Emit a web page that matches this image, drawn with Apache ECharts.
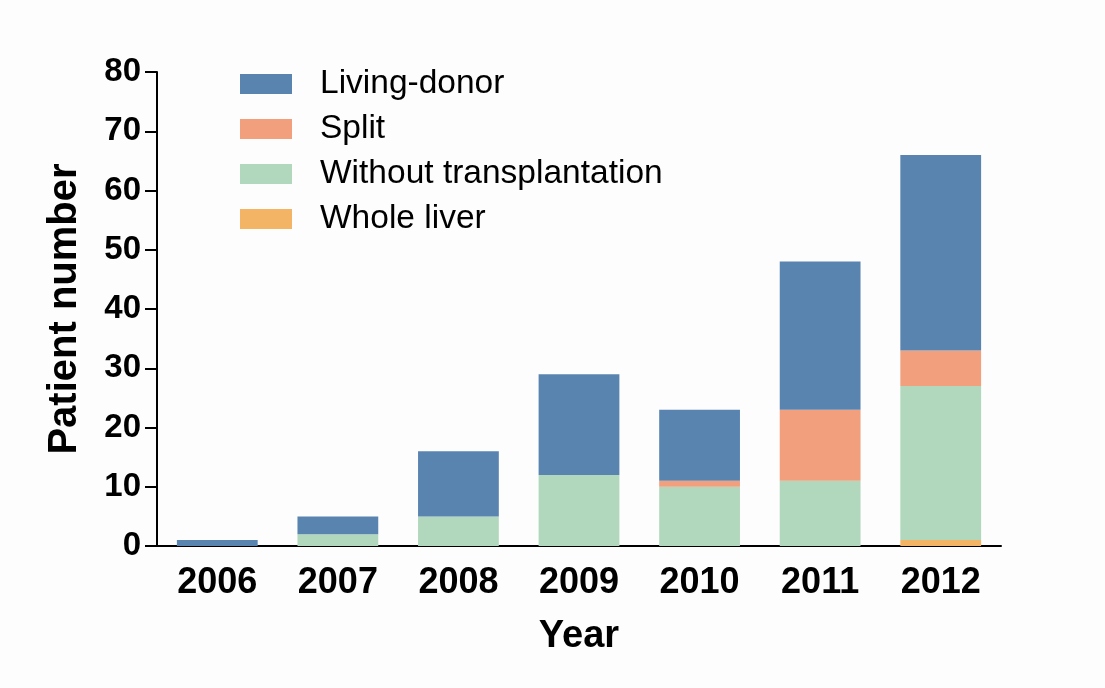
<!DOCTYPE html>
<html>
<head>
<meta charset="utf-8">
<script src="https://cdn.jsdelivr.net/npm/echarts@6/dist/echarts.min.js"></script>
<style>
  html, body { margin: 0; padding: 0; background: #fdfdfd; }
  #chart { width: 1105px; height: 688px; }
</style>
</head>
<body>
<div id="chart"></div>
<script>
// data
const years = ["2006", "2007", "2008", "2009", "2010", "2011", "2012"];
const wholeLiver = [0, 0, 0, 0, 0, 0, 1];
const withoutTx = [0, 2, 5, 12, 10, 11, 26];
const split = [0, 0, 0, 0, 1, 12, 6];
const livingDonor = [1, 3, 11, 17, 12, 25, 33];
const yTicks = { min: 0, max: 80, interval: 10 };

const chart = echarts.init(document.getElementById("chart"));

const font = "Liberation Sans, Arial, sans-serif";

function barSeries(name, data, color) {
  return {
    name: name,
    type: "bar",
    stack: "total",
    barCategoryGap: "33%",
    itemStyle: { color: color },
    data: data,
  };
}

const option = {
  backgroundColor: "#fdfdfd",
  animation: false,
  grid: { left: 157, right: 104, top: 72, bottom: 142 },
  legend: {
    left: 235,
    top: 62,
    orient: "vertical",
    itemWidth: 52,
    itemHeight: 20,
    itemGap: 11,
    icon: "rect",
    data: ["Living-donor", "Split", "Without transplantation", "Whole liver"],
    textStyle: {
      fontFamily: font,
      fontSize: 33.5,
      color: "#000",
      lineHeight: 31,
      padding: [0, 0, 0, 23],
    },
  },
  xAxis: {
    type: "category",
    data: years,
    name: "Year",
    nameLocation: "middle",
    nameGap: 72,
    nameTextStyle: { fontFamily: font, fontSize: 38, fontWeight: "bold", color: "#000" },
    axisLine: { lineStyle: { color: "#000", width: 2 } },
    axisTick: { alignWithLabel: true, length: 12, lineStyle: { color: "#000", width: 2 } },
    axisLabel: { fontFamily: font, fontSize: 36, fontWeight: "bold", color: "#000", margin: 19 },
  },
  yAxis: {
    type: "value",
    min: yTicks.min,
    max: yTicks.max,
    interval: yTicks.interval,
    name: "Patient number",
    nameLocation: "middle",
    nameRotate: 90,
    nameGap: 72,
    nameTextStyle: { fontFamily: font, fontSize: 40, fontWeight: "bold", color: "#000" },
    splitLine: { show: false },
    axisLine: { show: true, lineStyle: { color: "#000", width: 2 } },
    axisTick: { show: true, length: 12, lineStyle: { color: "#000", width: 2 } },
    axisLabel: { fontFamily: font, fontSize: 33, fontWeight: "bold", color: "#000", margin: 16 },
  },
  series: [
    barSeries("Whole liver", wholeLiver, "#f3b465"),
    barSeries("Without transplantation", withoutTx, "#b1d8bd"),
    barSeries("Split", split, "#f19f7d"),
    barSeries("Living-donor", livingDonor, "#5a84b0"),
  ],
};

chart.setOption(option);
</script>
</body>
</html>
